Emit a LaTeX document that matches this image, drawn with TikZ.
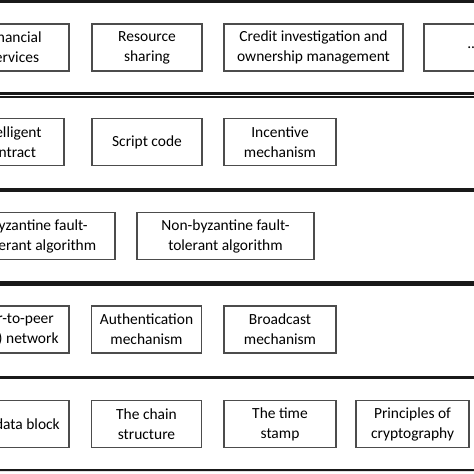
\documentclass[tikz,border=0pt]{standalone}
\usepackage{fontspec}
\setmainfont{Carlito}
\usepackage{tikz}
\usetikzlibrary{positioning,shadows}

\begin{document}
\begin{tikzpicture}[
  x=0.025cm, y=-0.025cm,
  layer/.style={draw=black!90, line width=1.6pt, fill=white, minimum width=16cm, minimum height=2.3cm, inner sep=0pt,
    drop shadow={shadow xshift=0pt, shadow yshift=-1.2pt, fill=black!12, opacity=1}},
  item/.style={draw=black!70, line width=0.9pt, fill=white, minimum width=2.75cm, minimum height=1.175cm, inner sep=0pt, align=center},
  font=\fontsize{11}{14.2}\selectfont
]
  \useasboundingbox (0,0) rectangle (474,474);
  \clip (0,0) rectangle (474,474);

  % layers
  \node[layer] (appl) at (237,47.5) {};
  \node[layer] (contr) at (237,143) {};
  \node[layer] (cons) at (237,236.5) {};
  \node[layer] (netw) at (237,331) {};
  \node[layer] (data) at (237,424) {};

  % application layer
  \node[item] (fin) at (14,47.5) {Financial\\services};
  \node[item] (res) at (147,47.5) {Resource\\sharing};
  \node[item, minimum width=4.475cm] (credit) at (313.5,47.5) {Credit investigation and\\ownership management};
  \node[item] (more) at (479,47.5) {......};

  % contract layer
  \node[item, minimum width=2.7cm] (smart) at (10,142) {Intelligent\\contract};
  \node[item] (script) at (147,142) {Script code};
  \node[item, minimum width=2.8cm] (incent) at (280,142) {Incentive\\mechanism};

  % consensus layer
  \node[item, minimum width=3.8cm] (bft) at (39,236) {Byzantine fault-\\tolerant algorithm};
  \node[item, minimum width=4.425cm] (nbft) at (225.5,236) {Non-byzantine fault-\\tolerant algorithm};

  % network layer
  \node[item] (ptp) at (14,329.5) {Peer-to-peer\\(P2P) network};
  \node[item] (auth) at (146.5,329.5) {Authentication\\mechanism};
  \node[item, minimum width=2.8cm] (bcast) at (280,329.5) {Broadcast\\mechanism};

  % data layer
  \node[item] (block) at (14,424) {The data block};
  \node[item] (chain) at (146.5,424) {The chain\\structure};
  \node[item, minimum width=2.8cm] (stamp) at (280,424) {The time\\stamp};
  \node[item, minimum width=2.825cm] (crypto) at (412.5,424) {Principles of\\cryptography};
\end{tikzpicture}
\end{document}
